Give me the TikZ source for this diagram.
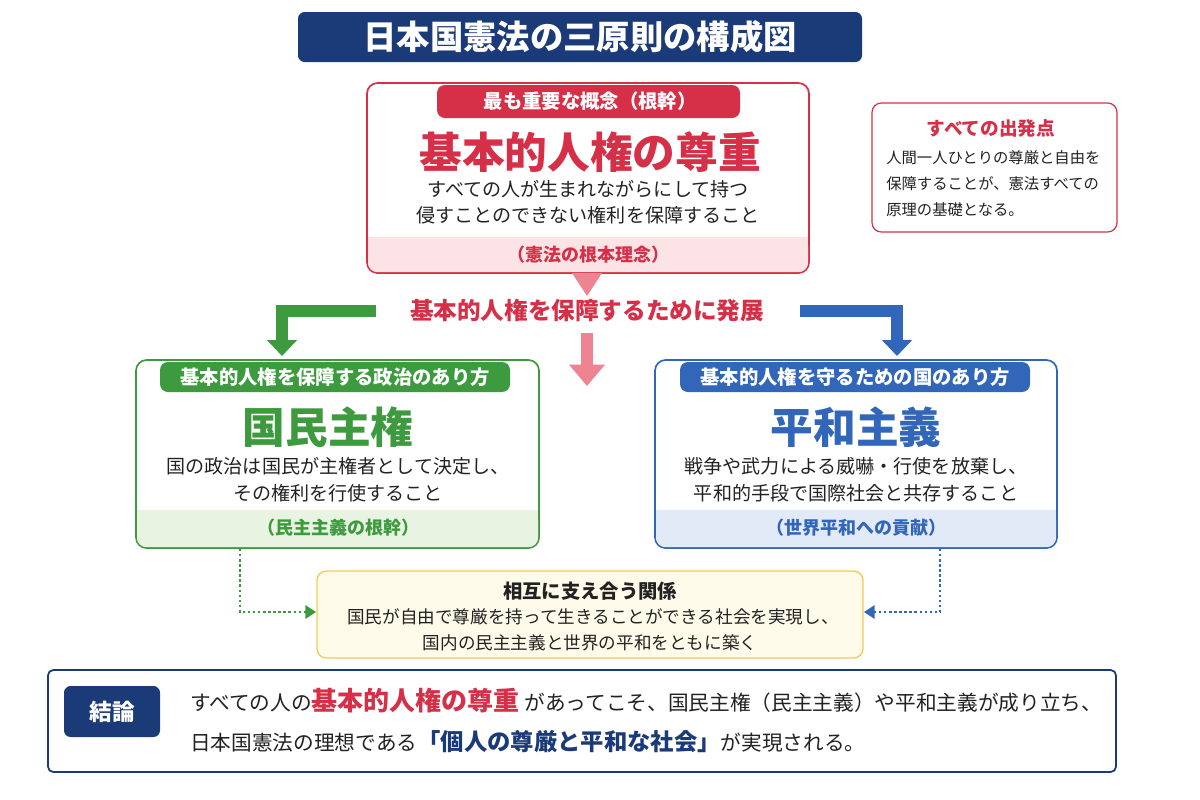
\documentclass[tikz,border=0pt]{standalone}
\usepackage{fontspec}
\setmainfont{Noto Sans CJK JP}
\usetikzlibrary{arrows.meta}
\definecolor{navy}{HTML}{1B3A78}
\definecolor{rd}{HTML}{D63048}
\definecolor{pk}{HTML}{FBE3E6}
\definecolor{pkar}{HTML}{EE8392}
\definecolor{gr}{HTML}{3E9A3E}
\definecolor{lgr}{HTML}{E8F3E2}
\definecolor{bl}{HTML}{3266B8}
\definecolor{lbl}{HTML}{E2EAF7}
\definecolor{yl}{HTML}{F1CB5A}
\definecolor{lyl}{HTML}{FFFBEA}
\definecolor{txt}{HTML}{222222}
\begin{document}
\begin{tikzpicture}[x=0.75pt,y=-0.75pt,
  t/.style={inner sep=0,text=txt,font=\fontsize{14.3}{17}\selectfont},
  tag/.style={inner sep=0,text=white,font=\bfseries\fontsize{14.5}{17}\selectfont},
  ttl/.style={inner sep=0,font=\bfseries\fontsize{32}{36}\selectfont},
  band/.style={inner sep=0,font=\bfseries\fontsize{13.5}{16}\selectfont}]
\useasboundingbox (0,0) rectangle (1200,800);
\fill[white] (0,0) rectangle (1200,800);
% title
\fill[navy,rounded corners=5pt] (298,12) rectangle (862,62);
\node[inner sep=0,text=white,font=\bfseries\fontsize{25}{28}\selectfont] (title) at (580,37) {日本国憲法の三原則の構成図};
% red box
\draw[rd,line width=1.3pt,fill=white,rounded corners=8pt] (367,83) rectangle (809,273);
\fill[pk,rounded corners=7pt] (368,237) rectangle (808,272);
\fill[pk] (368,237) rectangle (808,255);
\fill[rd,rounded corners=6pt] (437,85) rectangle (740,118);
\node[tag] (rtag) at (590,101) {最も重要な概念（根幹）};
\node[ttl,text=rd] (rtitle) at (590,152) {基本的人権の尊重};
\node[t] (r1) at (588,189) {すべての人が生まれながらにして持つ};
\node[t] (r2) at (588,215) {侵すことのできない権利を保障すること};
\node[band,text=rd] (rb) at (588,255) {（憲法の根本理念）};
% side note
\draw[rd,line width=0.9pt,fill=white,rounded corners=7pt] (872,103) rectangle (1117,232);
\node[inner sep=0,text=rd,font=\bfseries\fontsize{14}{16}\selectfont] (s0) at (991,128) {すべての出発点};
\node[inner sep=0,text=txt,font=\fontsize{11.5}{14}\selectfont,anchor=west] (s1) at (886,158) {人間一人ひとりの尊厳と自由を};
\node[inner sep=0,text=txt,font=\fontsize{11.5}{14}\selectfont,anchor=west] (s2) at (886,184) {保障することが、憲法すべての};
\node[inner sep=0,text=txt,font=\fontsize{11.5}{14}\selectfont,anchor=west] (s3) at (886,210) {原理の基礎となる。};
% develop text & arrows
\fill[pkar] (572,273) -- (602,273) -- (587,296) -- cycle;
\node[inner sep=0,text=rd,font=\bfseries\fontsize{17.7}{20}\selectfont] (dev) at (587,311) {基本的人権を保障するために発展};
\coordinate (p0) at (587,333);
\coordinate (p1) at (587,386);
\draw[pkar,line width=9pt,-{Triangle[length=16pt,width=26pt]}] (p0) -- (p1);
\coordinate (g0) at (376,311);\coordinate (g1) at (282,311);\coordinate (g2) at (282,356);
\draw[gr,line width=9pt,-{Triangle[length=12pt,width=22pt]}] (g0) -- (g1) -- (g2);
\coordinate (b0) at (800,311);\coordinate (b1) at (897,311);\coordinate (b2) at (897,356);
\draw[bl,line width=9pt,-{Triangle[length=12pt,width=22pt]}] (b0) -- (b1) -- (b2);
% green box
\draw[gr,line width=1.3pt,fill=white,rounded corners=8pt] (136,360) rectangle (539,548);
\fill[lgr,rounded corners=7pt] (137,510) rectangle (538,547);
\fill[lgr] (137,510) rectangle (538,530);
\fill[gr,rounded corners=6pt] (160,362) rectangle (510,392);
\node[tag] (gtag) at (335,377) {基本的人権を保障する政治のあり方};
\node[ttl,text=gr] (gtitle) at (328,427) {国民主権};
\node[t] (g1t) at (338,466) {国の政治は国民が主権者として決定し、};
\node[t] (g2t) at (338,493) {その権利を行使すること};
\node[band,text=gr] (gb) at (338,528) {（民主主義の根幹）};
% blue box
\draw[bl,line width=1.3pt,fill=white,rounded corners=8pt] (655,360) rectangle (1057,548);
\fill[lbl,rounded corners=7pt] (656,510) rectangle (1056,547);
\fill[lbl] (656,510) rectangle (1056,530);
\fill[bl,rounded corners=6pt] (680,362) rectangle (1030,392);
\node[tag] (btag) at (855,377) {基本的人権を守るための国のあり方};
\node[ttl,text=bl] (btitle) at (856,427) {平和主義};
\node[t] (b1t) at (856,466) {戦争や武力による威嚇・行使を放棄し、};
\node[t] (b2t) at (856,493) {平和的手段で国際社会と共存すること};
\node[band,text=bl] (bb) at (856,528) {（世界平和への貢献）};
% yellow box
\draw[yl,line width=1pt,fill=lyl,rounded corners=7pt] (317,571) rectangle (863,658);
\node[inner sep=0,text=txt,font=\bfseries\fontsize{14.5}{17}\selectfont] (y0) at (590,591) {相互に支え合う関係};
\node[inner sep=0,text=txt,font=\fontsize{13.2}{15}\selectfont] (y1) at (593,617) {国民が自由で尊厳を持って生きることができる社会を実現し、};
\node[inner sep=0,text=txt,font=\fontsize{13.2}{15}\selectfont] (y2) at (590,643) {国内の民主主義と世界の平和をともに築く};
% dotted connectors
\coordinate (dg0) at (240,549);\coordinate (dg1) at (240,612);\coordinate (dg2) at (316,612);
\draw[gr,line width=1.8pt,dotted,-{Triangle[length=8pt,width=10pt]}] (dg0) -- (dg1) -- (dg2);
\coordinate (db0) at (940,549);\coordinate (db1) at (940,612);\coordinate (db2) at (864,612);
\draw[bl,line width=1.8pt,dotted,-{Triangle[length=8pt,width=10pt]}] (db0) -- (db1) -- (db2);
% conclusion
\draw[navy,line width=1.3pt,fill=white,rounded corners=4pt] (48,670) rectangle (1116,772);
\fill[navy,rounded corners=5pt] (64,686) rectangle (160,737);
\node[inner sep=0,text=white,font=\bfseries\fontsize{17}{19}\selectfont] (cl) at (112,712) {結論};
\node[inner sep=0,anchor=base west,text=txt,font=\fontsize{15.5}{18}\selectfont] (c1) at (190,710) {すべての人の{\color{rd}\bfseries\fontsize{19.5}{22}\selectfont 基本的人権の尊重} があってこそ、国民主権（民主主義）や平和主義が成り立ち、};
\node[inner sep=0,anchor=base west,text=txt,font=\fontsize{15.5}{18}\selectfont] (c2) at (190,750) {日本国憲法の理想である{\color{navy}\bfseries\fontsize{17.5}{20}\selectfont「個人の尊厳と平和な社会」}が実現される。};
\end{tikzpicture}
\end{document}
